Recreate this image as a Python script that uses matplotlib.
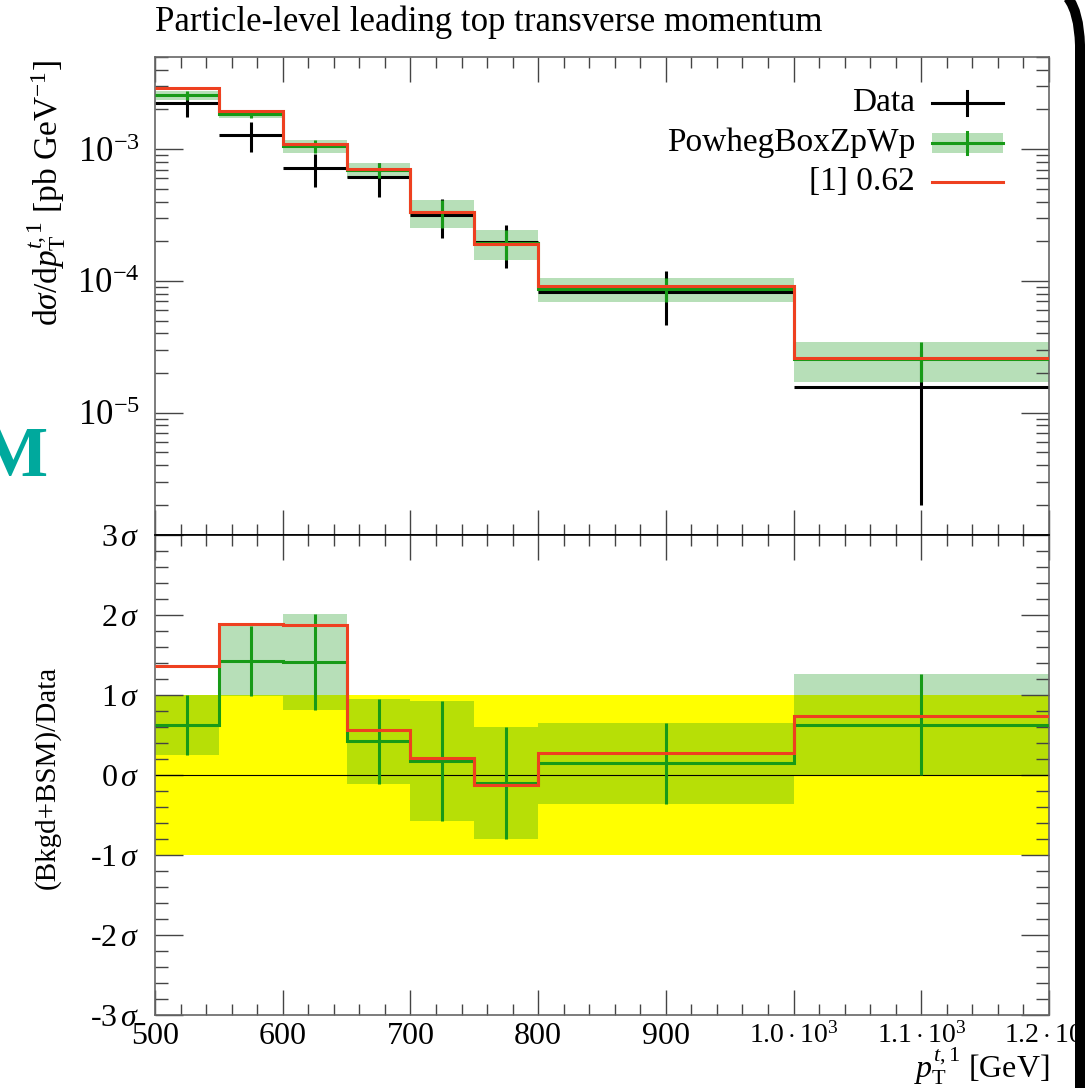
import numpy as np
import matplotlib
matplotlib.use("Agg")
import matplotlib.pyplot as plt
from matplotlib.path import Path
from matplotlib.patches import PathPatch, Rectangle
from matplotlib.lines import Line2D
from matplotlib.ticker import MultipleLocator, LogLocator, NullFormatter

plt.rcParams['font.family'] = ['Liberation Serif', 'DejaVu Serif']
plt.rcParams['mathtext.fontset'] = 'custom'
plt.rcParams['mathtext.rm'] = 'Liberation Serif'
plt.rcParams['mathtext.it'] = 'Liberation Serif:italic'
plt.rcParams['mathtext.bf'] = 'Liberation Serif:bold'

# bins of leading top pT [GeV]
edges = np.array([500, 550, 600, 650, 700, 750, 800, 1000, 1200])

# top panel: dsigma/dpT [pb/GeV]
data_val = np.array([2.23e-3, 1.28e-3, 7.2e-4, 6.1e-4, 3.16e-4, 1.96e-4, 8.2e-5, 1.56e-5])
data_err = np.array([4.7e-4, 3.3e-4, 2.0e-4, 1.75e-4, 1.04e-4, 7.0e-5, 3.6e-5, 1.36e-5])
mc_val = np.array([2.56e-3, 1.84e-3, 1.05e-3, 6.97e-4, 3.31e-4, 1.93e-4, 8.7e-5, 2.56e-5])
mc_err = np.array([1.9e-4, 1.3e-4, 1.2e-4, 9.0e-5, 7.8e-5, 5.0e-5, 1.8e-5, 8.6e-6])
bsm_val = np.array([2.9e-3, 1.93e-3, 1.10e-3, 7.05e-4, 3.36e-4, 1.90e-4, 9.16e-5, 2.58e-5])

# bottom panel: (Bkgd+BSM)/Data in sigma
data_band = 1.0
mc_sig = np.array([0.63, 1.425, 1.41, 0.42, 0.17, -0.10, 0.146, 0.63])
mc_sig_err = np.array([0.375, 0.435, 0.60, 0.53, 0.75, 0.70, 0.51, 0.63])
bsm_sig = np.array([1.36, 1.89, 1.88, 0.56, 0.21, -0.13, 0.28, 0.74])

xticks = [500, 600, 700, 800, 900, 1000, 1100, 1200]
xticklabels = ["500", "600", "700", "800", "900",
               r"$1.0\cdot10^{3}$", r"$1.1\cdot10^{3}$", r"$1.2\cdot10^{3}$"]
sig_ticks = [-3, -2, -1, 0, 1, 2, 3]
legend_labels = ["Data", "PowhegBoxZpWp", "[1] 0.62"]

GREEN = "#179a17"
BAND = "#129614"
RED = "#ee4020"
FS = 24

W, H = 1085, 1088
fig = plt.figure(figsize=(W / 100, H / 100), dpi=100)


def fx(x):
    return x / W


def fy(y):
    return 1 - y / H


L, R, T, MID, B = 155, 1049, 57, 535, 1015
ax1 = fig.add_axes([fx(L), fy(MID), (R - L) / W, (MID - T) / H])
ax2 = fig.add_axes([fx(L), fy(B), (R - L) / W, (B - MID) / H], sharex=ax1)

centers = 0.5 * (edges[1:] + edges[:-1])
halfw = 0.5 * (edges[1:] - edges[:-1])

# top panel
ax1.stairs(mc_val + mc_err, edges, baseline=mc_val - mc_err, fill=True,
           color=BAND, alpha=0.3, lw=0, zorder=1)
ax1.errorbar(centers, data_val, xerr=halfw, yerr=data_err, fmt='none',
             ecolor='black', elinewidth=2.2, capsize=0, zorder=2)
ax1.stairs(mc_val, edges, baseline=None, color=GREEN, lw=2.2, zorder=3)
ax1.errorbar(centers, mc_val, yerr=mc_err, fmt='none', ecolor=GREEN,
             elinewidth=2.2, capsize=0, zorder=3)
ax1.stairs(bsm_val, edges, baseline=None, color=RED, lw=2.2, zorder=4)

ax1.set_yscale('log')
ax1.set_xlim(500, 1200)
ax1.set_ylim(1.18e-6, 5e-3)
ax1.set_yticks([1e-5, 1e-4, 1e-3])
ax1.set_yticklabels([r"$10^{-5}$", r"$10^{-4}$", r"$10^{-3}$"])
ax1.yaxis.set_minor_locator(LogLocator(base=10, subs=np.arange(2, 10)))
ax1.yaxis.set_minor_formatter(NullFormatter())
ax1.tick_params(labelbottom=False)

# bottom panel
ax2.axhspan(-data_band, data_band, color='#ffff00', lw=0, zorder=0)
ax2.stairs(mc_sig + mc_sig_err, edges, baseline=mc_sig - mc_sig_err, fill=True,
           color=BAND, alpha=0.3, lw=0, zorder=1)
ax2.axhline(0, color='black', lw=0.8, zorder=2)
ax2.stairs(mc_sig, edges, baseline=None, color=GREEN, lw=2.2, zorder=3)
ax2.errorbar(centers, mc_sig, yerr=mc_sig_err, fmt='none', ecolor=GREEN,
             elinewidth=2.2, capsize=0, zorder=3)
ax2.stairs(bsm_sig, edges, baseline=None, color=RED, lw=2.2, zorder=4)

ax2.set_ylim(-3, 3)
ax2.set_yticks(sig_ticks)
ax2.set_yticklabels([r"%d$\,\sigma$" % v for v in sig_ticks])
ax2.yaxis.set_minor_locator(MultipleLocator(0.2))
ax2.set_xticks(xticks)
ax2.set_xticklabels(xticklabels)
ax2.xaxis.set_minor_locator(MultipleLocator(20))

for ax in (ax1, ax2):
    ax.tick_params(which='both', direction='in', top=True, right=True,
                   color='#444444', width=1.0)
    ax.tick_params(axis='y', which='major', length=20, pad=11)
    ax.tick_params(axis='y', which='minor', length=9.4)
    ax.tick_params(axis='x', which='major', length=18, pad=5, labelsize=23)
    ax.tick_params(axis='x', which='minor', length=8)
    for s in ax.spines.values():
        s.set_color('#666666')
        s.set_linewidth(1.2)
ax1.tick_params(axis='y', labelsize=25)
ax2.tick_params(axis='y', labelsize=23)
for lab in ax2.get_xticklabels()[5:]:
    lab.set_fontsize(20)
ax1.spines['bottom'].set_color('black')
ax2.spines['top'].set_color('black')

# legend, drawn by hand like rivet does
rows = [103, 143, 182]
tx, hx0, hx1 = 915, 932, 1003
for lab, ry in zip(legend_labels, rows):
    fig.text(fx(tx), fy(ry), lab, fontsize=FS, ha='right', va='center')
fig.add_artist(Line2D([fx(hx0), fx(hx1)], [fy(rows[0])] * 2, color='black', lw=2.2))
fig.add_artist(Line2D([fx(967)] * 2, [fy(rows[0] - 12), fy(rows[0] + 12)], color='black', lw=2.2))
fig.add_artist(Rectangle((fx(hx0), fy(rows[1] + 10)), (hx1 - hx0) / W, 20 / H,
                         transform=fig.transFigure, color=BAND, alpha=0.3, lw=0))
fig.add_artist(Line2D([fx(hx0), fx(hx1)], [fy(rows[1])] * 2, color=GREEN, lw=2.2))
fig.add_artist(Line2D([fx(967)] * 2, [fy(rows[1] - 11), fy(rows[1] + 11)], color=GREEN, lw=2.2))
fig.add_artist(Line2D([fx(hx0), fx(hx1)], [fy(rows[2])] * 2, color=RED, lw=2.2))

# titles and labels
fig.text(fx(L), fy(31), "Particle-level leading top transverse momentum",
         fontsize=25, ha='left', va='baseline')
fig.text(fx(47), fy(60), r"d$\sigma$/d$p_{\mathrm{T}}^{t,1}$ [pb GeV$^{-1}$]",
         fontsize=FS, rotation=90, ha='center', va='top')
fig.text(fx(47), fy(777), "(Bkgd+BSM)/Data", fontsize=21, rotation=90,
         ha='center', va='center')
fig.text(fx(R), fy(1087), r"$p_{\mathrm{T}}^{t,1}$ [GeV]", fontsize=23,
         ha='right', va='bottom')

# bits of the slide around the plot
fig.text(fx(48), fy(476), "M", fontsize=52, fontweight='bold', color='#00a99d',
         ha='right', va='baseline')
border = Path([(fx(1068), fy(-2)), (fx(1079), fy(12)), (fx(1080), fy(45)),
               (fx(1080), fy(1100))],
              [Path.MOVETO, Path.CURVE3, Path.CURVE3, Path.LINETO])
fig.add_artist(PathPatch(border, transform=fig.transFigure, fill=False,
                         lw=7.2, color='black'))

fig.savefig("out.png", dpi=100)
